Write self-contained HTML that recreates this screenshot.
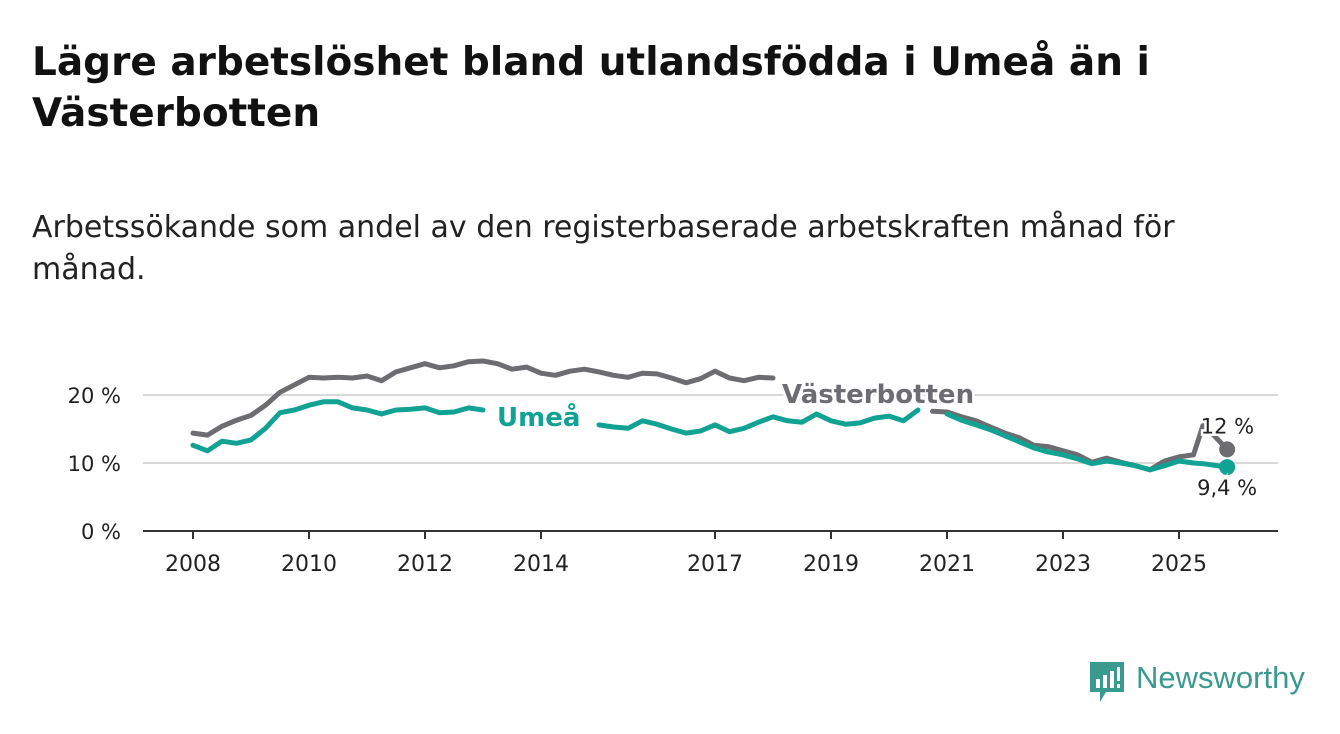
<!DOCTYPE html>
<html><head><meta charset="utf-8">
<style>
html,body{margin:0;padding:0;background:#fff;}
body{width:1340px;height:734px;position:relative;overflow:hidden;font-family:"DejaVu Sans","Liberation Sans",sans-serif;color:#111;}
#title{position:absolute;left:32px;top:37px;font-size:39px;font-weight:bold;line-height:51px;margin:0;width:1200px;color:#111;}
#subtitle{position:absolute;left:32px;top:207px;font-size:30px;line-height:42px;width:1180px;color:#222;}
svg{position:absolute;left:0;top:0;}
#logo{position:absolute;left:1088px;top:662px;}
#logo-text{position:absolute;left:1136px;top:660px;font-family:"Liberation Sans",sans-serif;font-size:31px;color:#3a9a8f;}
</style></head>
<body>
<h1 id="title">Lägre arbetslöshet bland utlandsfödda i Umeå än i Västerbotten</h1>
<div id="subtitle">Arbetssökande som andel av den registerbaserade arbetskraften månad för månad.</div>
<svg id="chart" width="1340" height="734"></svg>
<svg id="logo" width="38" height="42">
<path d="M2 0 H36 V30 H18 L12 40 L12 30 H2 Z" fill="#3a9a8f"/>
<rect x="8" y="17" width="4" height="9" fill="#fff"/><rect x="15" y="13" width="4" height="13" fill="#fff"/><rect x="22" y="9" width="4" height="17" fill="#fff"/><rect x="29" y="5" width="3" height="14" fill="#fff"/><rect x="29" y="22" width="3" height="4" fill="#fff"/>
</svg>
<div id="logo-text">Newsworthy</div>
<script>
const times=[2008,2008.25,2008.5,2008.75,2009,2009.25,2009.5,2009.75,2010,2010.25,2010.5,2010.75,2011,2011.25,2011.5,2011.75,2012,2012.25,2012.5,2012.75,2013,2013.25,2013.5,2013.75,2014,2014.25,2014.5,2014.75,2015,2015.25,2015.5,2015.75,2016,2016.25,2016.5,2016.75,2017,2017.25,2017.5,2017.75,2018,2018.25,2018.5,2018.75,2019,2019.25,2019.5,2019.75,2020,2020.25,2020.5,2020.75,2021,2021.25,2021.5,2021.75,2022,2022.25,2022.5,2022.75,2023,2023.25,2023.5,2023.75,2024,2024.25,2024.5,2024.75,2025,2025.25,2025.42,2025.83];
const vasterbotten=[14.4,14.1,15.4,16.3,17,18.5,20.4,21.5,22.6,22.5,22.6,22.5,22.8,22.1,23.4,24,24.6,24,24.3,24.9,25,24.6,23.8,24.1,23.2,22.9,23.5,23.8,23.4,22.9,22.6,23.2,23.1,22.5,21.8,22.4,23.5,22.5,22.1,22.6,22.5,null,null,null,null,null,null,null,null,null,null,17.6,17.5,16.8,16.2,15.3,14.4,13.7,12.6,12.4,11.8,11.2,10.1,10.7,10.1,9.6,9,10.3,10.9,11.2,15.7,12];
const umea=[12.6,11.8,13.2,12.9,13.4,15.1,17.4,17.8,18.5,19,19,18.1,17.8,17.2,17.8,17.9,18.1,17.4,17.5,18.1,17.8,null,null,null,null,null,null,null,15.6,15.3,15.1,16.2,15.7,15,14.4,14.7,15.6,14.6,15.1,16,16.8,16.2,16,17.2,16.2,15.7,15.9,16.6,16.9,16.2,17.8,null,17.2,16.3,15.6,14.9,14,13.1,12.2,11.6,11.2,10.6,9.9,10.3,10,9.6,9,9.6,10.3,10,9.9,9.4];
const yTicks=[0,10,20];
const yTickLabels=["0 %","10 %","20 %"];
const xTicks=[2008,2010,2012,2014,2017,2019,2021,2023,2025];

const NS="http://www.w3.org/2000/svg";
const svg=document.getElementById('chart');
const FONT='DejaVu Sans, Liberation Sans, sans-serif';
const X=t=>193+(t-2008)*58;
const Y=v=>531-v*6.8;
function el(tag,attrs,parent){const e=document.createElementNS(NS,tag);for(const k in attrs)e.setAttribute(k,attrs[k]);(parent||svg).appendChild(e);return e;}

yTicks.forEach((v,i)=>{
  if(v>0){const g=el('line',{x1:143,x2:1278,y1:Y(v),y2:Y(v),stroke:'#d9d9d9','stroke-width':2});
  
  }
  const t=el('text',{x:121,y:Y(v)+8,'text-anchor':'end','font-size':21,fill:'#222','font-family':FONT});
  t.textContent=yTickLabels[i];
  
  
});
const ax=el('line',{x1:143,x2:1278,y1:531,y2:531,stroke:'#333','stroke-width':2});


xTicks.forEach(yr=>{
  const tk=el('line',{x1:X(yr),x2:X(yr),y1:531,y2:539,stroke:'#333','stroke-width':2});
  
  
  const t=el('text',{x:X(yr),y:571,'text-anchor':'middle','font-size':22,fill:'#222','font-family':FONT});
  t.textContent=yr;
  
  
});
function drawSeries(vals,color,name){
  let d='',pen=false;
  vals.forEach((v,i)=>{if(v==null){pen=false;return;}d+=(pen?'L':'M')+X(times[i]).toFixed(1)+' '+Y(v).toFixed(1)+' ';pen=true;});
  const p=el('path',{d:d,fill:'none',stroke:color,'stroke-width':5,'stroke-linejoin':'round','stroke-linecap':'round'});
  
  
  const n=vals.length-1;
  const c=el('circle',{cx:X(times[n]),cy:Y(vals[n]),r:8,fill:color});
  
  
}
drawSeries(vasterbotten,'#6d6c70','vasterbotten');
drawSeries(umea,'#12a294','umea');
function label(x,y,txt,color,size,bold,name,anchor){
  const t=el('text',{x:x,y:y,fill:color,'font-size':size,'font-weight':bold?'bold':'normal','font-family':FONT,'text-anchor':anchor||'start',stroke:'#fff','stroke-width':5,'paint-order':'stroke'});
  t.textContent=txt;
  
  
}
label(497,426,'Umeå','#12a294',26,true,'umea-series-label');
label(782,403,'Västerbotten','#6d6c70',26,true,'vasterbotten-series-label');
const n=times.length-1;
label(X(times[n])+27,Y(vasterbotten[n])-16,'12 %','#222',21,false,'vasterbotten-end-value','end');
label(X(times[n])+30,Y(umea[n])+28,'9,4 %','#222',21,false,'umea-end-value','end');
</script>
</body></html>
